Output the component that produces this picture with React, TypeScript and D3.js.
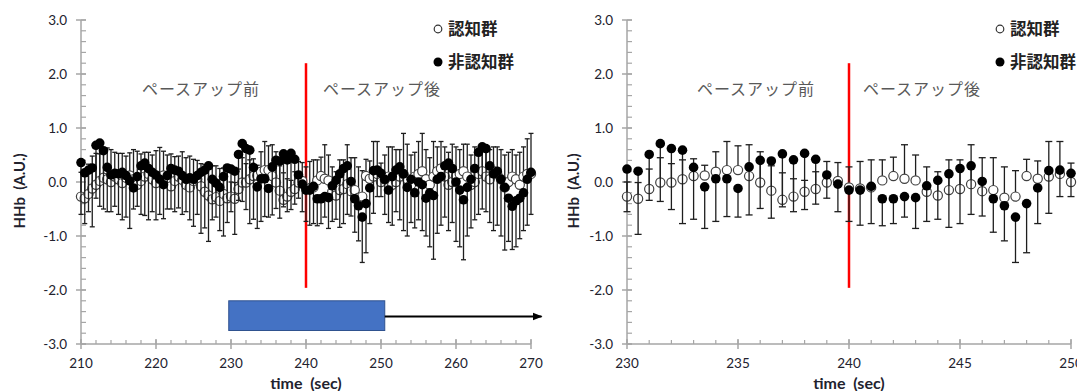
import React, { useEffect, useRef } from 'react';
import * as d3 from 'd3';

const width = 1077;
const height = 391;

// 認知群 (open) / 非認知群 (filled), 0.5 s steps
// 210.0 - 229.5
const cogPre = [-0.27, -0.30, -0.22, -0.12, -0.05, 0.02, 0.08, 0.05, 0.0, 0.1, 0.05, -0.02, 0.08, 0.12, 0.05, -0.05, 0.02, 0.1, 0.15, 0.05, -0.02, 0.08, 0.12, 0.0, -0.08, 0.02, 0.1, 0.04, -0.05, -0.1, 0.02, 0.05, -0.08, -0.18, -0.25, -0.32, -0.28, -0.35, -0.22, -0.3];
const cogPreErr = [0.45, 0.50, 0.55, 0.60, 0.58, 0.50, 0.48, 0.58, 0.60, 0.45, 0.48, 0.55, 0.40, 0.42, 0.55, 0.62, 0.50, 0.45, 0.40, 0.45, 0.60, 0.56, 0.45, 0.50, 0.60, 0.45, 0.38, 0.52, 0.50, 0.58, 0.40, 0.35, 0.42, 0.50, 0.55, 0.62, 0.58, 0.60, 0.48, 0.50];
const nonPre = [0.36, 0.17, 0.22, 0.26, 0.68, 0.72, 0.58, 0.27, 0.13, 0.16, 0.15, 0.18, 0.12, 0.02, -0.11, 0.10, 0.30, 0.35, 0.25, 0.18, 0.13, 0.05, -0.05, 0.12, 0.25, 0.22, 0.20, 0.12, 0.05, 0.08, 0.05, 0.12, 0.18, 0.22, 0.30, 0.05, -0.02, -0.10, 0.10, 0.26];
const nonPreErr = [0.96, 0.94, 0.77, 1.09, 0.98, 1.17, 1.08, 0.82, 0.68, 0.61, 0.75, 0.88, 0.77, 0.88, 0.39, 0.55, 0.90, 0.97, 0.95, 0.73, 0.83, 0.65, 0.63, 0.62, 0.75, 0.77, 0.68, 0.72, 0.60, 0.78, 0.87, 0.72, 1.13, 1.07, 1.40, 0.75, 0.63, 0.80, 1.10, 1.01];

// 230.0 - 250.0
const cogMid = [-0.27, -0.31, -0.13, -0.01, -0.01, 0.05, 0.11, 0.12, 0.19, 0.22, 0.22, 0.11, -0.01, -0.16, -0.33, -0.27, -0.18, -0.13, -0.01, 0.02, -0.1, -0.12, -0.1, 0.03, 0.11, 0.06, 0.03, -0.18, -0.25, -0.15, -0.13, -0.04, -0.17, -0.15, -0.29, -0.27, 0.11, 0.06, 0.10, 0.15, 0.0];
const cogMidErr = [0.27, 0.30, 0.37, 0.46, 0.35, 0.36, 0.32, 0.19, 0.37, 0.53, 0.45, 0.58, 0.57, 0.46, 0.50, 0.33, 0.21, 0.32, 0.39, 0.34, 0.38, 0.50, 0.51, 0.38, 0.35, 0.63, 0.47, 0.46, 0.44, 0.56, 0.54, 0.73, 0.62, 0.60, 0.57, 0.48, 0.31, 0.33, 0.65, 0.60, 0.35];
const nonMid = [0.24, 0.20, 0.51, 0.71, 0.62, 0.59, 0.27, -0.09, 0.06, 0.06, -0.12, 0.28, 0.40, 0.39, 0.52, 0.41, 0.53, 0.42, 0.13, -0.04, -0.15, -0.15, -0.08, -0.31, -0.31, -0.27, -0.29, -0.07, 0.03, 0.15, 0.25, 0.30, 0.01, -0.31, -0.44, -0.65, -0.40, -0.11, 0.21, 0.22, 0.16];
const nonMidErr = [0.79, 1.17, 0.85, 1.07, 1.13, 1.36, 0.96, 0.77, 0.79, 0.70, 0.53, 0.89, 0.89, 1.06, 0.98, 0.96, 1.04, 0.83, 0.43, 0.51, 0.58, 0.65, 0.69, 0.50, 0.46, 0.38, 0.57, 0.66, 0.72, 0.99, 1.02, 0.90, 0.64, 0.62, 0.65, 0.84, 0.91, 0.66, 0.79, 0.49, 0.43];

// 250.5 - 270.0
const cogPost = [0.05, 0.10, -0.05, 0.00, 0.10, 0.15, 0.05, -0.05, 0.10, 0.15, 0.20, 0.05, -0.05, 0.10, 0.20, 0.25, 0.10, -0.05, 0.00, 0.10, 0.15, 0.20, 0.10, -0.05, 0.00, 0.15, 0.20, 0.10, 0.05, 0.20, 0.15, 0.05, -0.10, 0.00, 0.10, 0.05, -0.05, 0.10, 0.15, 0.15];
const cogPostErr = [0.45, 0.55, 0.70, 0.60, 0.50, 0.75, 0.65, 0.55, 0.45, 0.60, 0.70, 0.55, 0.50, 0.65, 0.45, 0.50, 0.55, 0.60, 0.70, 0.55, 0.45, 0.50, 0.60, 0.55, 0.65, 0.40, 0.45, 0.50, 0.55, 0.45, 0.50, 0.55, 0.60, 0.55, 0.50, 0.45, 0.60, 0.55, 0.65, 0.75];
const nonPost = [0.05, -0.15, 0.10, 0.22, 0.28, 0.15, -0.10, 0.05, -0.20, 0.00, -0.05, -0.30, -0.20, -0.25, 0.05, 0.10, 0.30, 0.35, 0.25, 0.00, -0.15, -0.33, -0.10, 0.05, 0.25, 0.55, 0.65, 0.62, 0.30, 0.15, 0.20, 0.05, -0.10, -0.30, -0.45, -0.35, -0.30, -0.20, 0.05, 0.18];
const nonPostErr = [0.65, 0.60, 0.90, 0.77, 0.98, 1.05, 0.90, 0.80, 0.65, 0.70, 0.85, 0.70, 1.00, 1.18, 1.00, 0.90, 0.95, 1.25, 1.00, 1.10, 1.05, 1.11, 0.90, 0.90, 0.95, 1.15, 1.15, 1.17, 1.05, 1.05, 1.00, 1.05, 1.16, 0.80, 0.80, 0.85, 0.75, 0.70, 0.85, 0.78];

const yTicks = [-3, -2, -1, 0, 1, 2, 3];
const leftXTicks = [210, 220, 230, 240, 250, 260, 270];
const rightXTicks = [230, 235, 240, 245, 250];
const seriesNames = ['認知群', '非認知群'];
const phaseNames = ['ペースアップ前', 'ペースアップ後'];

interface Pt { t: number; v: number; e: number; }

const toPoints = (start: number, vals: number[], errs: number[]): Pt[] =>
  vals.map((v, i) => ({ t: start + i * 0.5, v, e: errs[i] }));

interface PanelCfg {
  x0: number; x1: number;
  domain: [number, number];
  majors: number[];
  minorStep: number;
  cap: number;
  cog: Pt[]; non: Pt[];
  yTitleX: number;
  legendX: number;
  phaseX: [number, number];
  block?: boolean;
}

const font = "Lato, 'Liberation Sans', sans-serif";
const jp = "'Noto Sans CJK JP', 'Noto Sans', sans-serif";

export default function App() {
  const ref = useRef<SVGSVGElement>(null);

  useEffect(() => {
    const svg = d3.select(ref.current);
    svg.selectAll('*').remove();
    svg.append('rect').attr('width', width).attr('height', height).attr('fill', '#fff');

    const defs = svg.append('defs');
    defs.append('marker').attr('id', 'arrow').attr('viewBox', '0 0 10 10')
      .attr('refX', 9).attr('refY', 5).attr('markerWidth', 5).attr('markerHeight', 5)
      .attr('orient', 'auto')
      .append('path').attr('d', 'M0,1 L10,5 L0,9 Z').attr('fill', '#000');

    const y = d3.scaleLinear().domain([-3, 3]).range([344, 20]);

    const panels: PanelCfg[] = [
      {
        x0: 81, x1: 531, domain: [210, 270], majors: leftXTicks, minorStep: 2, cap: 5,
        cog: toPoints(210, [...cogPre, ...cogMid, ...cogPost], [...cogPreErr, ...cogMidErr, ...cogPostErr]),
        non: toPoints(210, [...nonPre, ...nonMid, ...nonPost], [...nonPreErr, ...nonMidErr, ...nonPostErr]),
        yTitleX: 20, legendX: 438, phaseX: [142, 323], block: true
      },
      {
        x0: 627, x1: 1071, domain: [230, 250], majors: rightXTicks, minorStep: 1, cap: 7,
        cog: toPoints(230, cogMid, cogMidErr),
        non: toPoints(230, nonMid, nonMidErr),
        yTitleX: 574, legendX: 1000, phaseX: [697, 863]
      }
    ];

    const axisColor = '#a6a6a6';
    const labelColor = '#22222e';

    panels.forEach(p => {
      const x = d3.scaleLinear().domain(p.domain).range([p.x0, p.x1]);
      const g = svg.append('g');

      // y axis
      g.append('line').attr('x1', p.x0).attr('x2', p.x0).attr('y1', y(3)).attr('y2', y(-3))
        .attr('stroke', axisColor).attr('stroke-width', 1.5);
      d3.range(-3, 3.001, 0.2).forEach(v => {
        g.append('line').attr('x1', p.x0).attr('x2', p.x0 + 5).attr('y1', y(v)).attr('y2', y(v))
          .attr('stroke', axisColor).attr('stroke-width', 1.2);
      });
      yTicks.forEach(v => {
        g.append('line').attr('x1', p.x0 - 5).attr('x2', p.x0 + 5).attr('y1', y(v)).attr('y2', y(v))
          .attr('stroke', axisColor).attr('stroke-width', 1.5);
        g.append('text').attr('x', p.x0 - 14).attr('y', y(v) + 5).attr('text-anchor', 'end')
          .attr('font-family', font).attr('font-size', 13.5).attr('fill', labelColor)
          .text(v.toFixed(1));
      });

      // x axis
      g.append('line').attr('x1', p.x0).attr('x2', p.x1).attr('y1', y(-3)).attr('y2', y(-3))
        .attr('stroke', axisColor).attr('stroke-width', 1.5);
      d3.range(p.domain[0], p.domain[1] + 0.001, p.minorStep).forEach(t => {
        g.append('line').attr('x1', x(t)).attr('x2', x(t)).attr('y1', y(-3) - 4).attr('y2', y(-3))
          .attr('stroke', axisColor).attr('stroke-width', 1.2);
      });
      p.majors.forEach(t => {
        g.append('line').attr('x1', x(t)).attr('x2', x(t)).attr('y1', y(-3) - 5).attr('y2', y(-3) + 5)
          .attr('stroke', axisColor).attr('stroke-width', 1.5);
        g.append('text').attr('x', x(t)).attr('y', y(-3) + 24).attr('text-anchor', 'middle')
          .attr('font-family', font).attr('font-size', 13.5).attr('fill', labelColor)
          .text(t);
      });

      // titles
      g.append('text').attr('x', (p.x0 + p.x1) / 2).attr('y', 389).attr('text-anchor', 'middle')
        .attr('font-family', font).attr('font-weight', 'bold').attr('font-size', 16).attr('fill', labelColor)
        .attr('xml:space', 'preserve').text('time  (sec)');
      g.append('text').attr('transform', `translate(${p.yTitleX + 5},${191}) rotate(-90)`)
        .attr('text-anchor', 'middle')
        .attr('font-family', font).attr('font-weight', 'bold').attr('font-size', 15).attr('fill', labelColor)
        .attr('xml:space', 'preserve').text('HHb  (A.U.)');

      // phase labels
      phaseNames.forEach((s, i) => {
        g.append('text').attr('x', p.phaseX[i]).attr('y', 95)
          .attr('font-family', jp).attr('font-size', 16).attr('fill', '#595959')
          .attr('textLength', 117).text(s);
      });

      // 240 s marker
      g.append('line').attr('x1', x(240)).attr('x2', x(240)).attr('y1', y(2.2)).attr('y2', y(-1.96))
        .attr('stroke', '#ff0000').attr('stroke-width', 2.5);

      if (p.block) {
        g.append('rect').attr('x', x(229.7)).attr('y', y(-2.2))
          .attr('width', x(250.5) - x(229.7)).attr('height', y(-2.75) - y(-2.2))
          .attr('fill', '#4472c4').attr('stroke', '#2f528f').attr('stroke-width', 1);
        g.append('line').attr('x1', x(250.5)).attr('x2', x(271.4)).attr('y1', y(-2.49)).attr('y2', y(-2.49))
          .attr('stroke', '#000').attr('stroke-width', 2).attr('marker-end', 'url(#arrow)');
      }

      // 認知群: + error bars, open markers
      const ebColor = '#1e1e1e';
      const cog = g.append('g');
      p.cog.forEach(d => {
        cog.append('line').attr('x1', x(d.t)).attr('x2', x(d.t)).attr('y1', y(d.v)).attr('y2', y(d.v + d.e))
          .attr('stroke', ebColor).attr('stroke-width', 1.3);
        cog.append('line').attr('x1', x(d.t) - p.cap / 2).attr('x2', x(d.t) + p.cap / 2)
          .attr('y1', y(d.v + d.e)).attr('y2', y(d.v + d.e)).attr('stroke', ebColor).attr('stroke-width', 1.3);
      });
      cog.selectAll('circle').data(p.cog).enter().append('circle')
        .attr('cx', d => x(d.t)).attr('cy', d => y(d.v)).attr('r', 4.6)
        .attr('fill', '#fff').attr('stroke', '#404040').attr('stroke-width', 1.2);

      // 非認知群: - error bars, filled markers
      const non = g.append('g');
      p.non.forEach(d => {
        non.append('line').attr('x1', x(d.t)).attr('x2', x(d.t)).attr('y1', y(d.v)).attr('y2', y(d.v - d.e))
          .attr('stroke', ebColor).attr('stroke-width', 1.3);
        non.append('line').attr('x1', x(d.t) - p.cap / 2).attr('x2', x(d.t) + p.cap / 2)
          .attr('y1', y(d.v - d.e)).attr('y2', y(d.v - d.e)).attr('stroke', ebColor).attr('stroke-width', 1.3);
      });
      non.selectAll('circle').data(p.non).enter().append('circle')
        .attr('cx', d => x(d.t)).attr('cy', d => y(d.v)).attr('r', 4.8)
        .attr('fill', '#000');

      // legend
      const lg = g.append('g');
      lg.append('circle').attr('cx', p.legendX).attr('cy', 29).attr('r', 3.8)
        .attr('fill', '#fff').attr('stroke', '#333').attr('stroke-width', 1.2);
      lg.append('circle').attr('cx', p.legendX).attr('cy', 62).attr('r', 4.5).attr('fill', '#000');
      seriesNames.forEach((s, i) => {
        lg.append('text').attr('x', p.legendX + 10).attr('y', 35 + i * 33)
          .attr('font-family', jp).attr('font-weight', 'bold').attr('font-size', 16.5).attr('fill', '#222')
          .text(s);
      });
    });
  }, []);

  return (
    <svg ref={ref} width={width} height={height} viewBox={`0 0 ${width} ${height}`}
      style={{ position: 'absolute', left: 0, top: 0 }} />
  );
}
